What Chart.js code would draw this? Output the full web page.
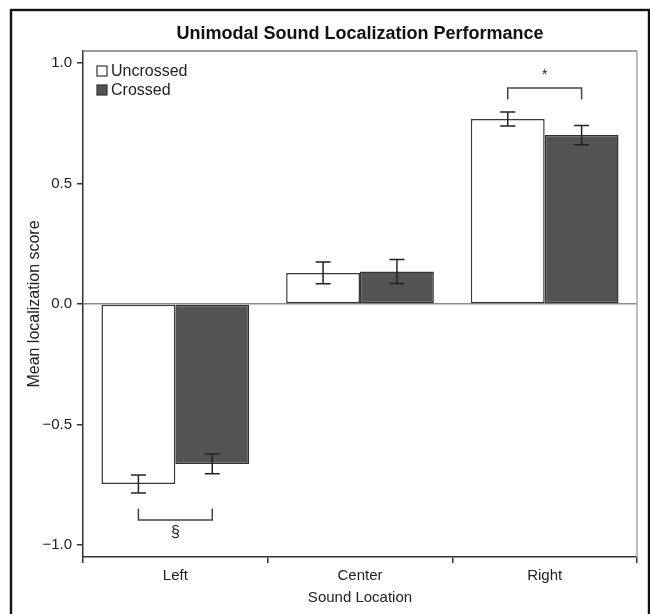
<!DOCTYPE html>
<html>
<head>
<meta charset="utf-8">
<title>Unimodal Sound Localization Performance</title>
<script src="https://cdn.jsdelivr.net/npm/chart.js@4.4.1/dist/chart.umd.min.js"></script>
<style>
  html, body { margin: 0; padding: 0; background: #fff; overflow: hidden; }
  canvas { display: block; }
</style>
</head>
<body>
<canvas id="chart" width="650" height="614"></canvas>
<script>
// data
const categories = ["Left", "Center", "Right"];
const seriesNames = ["Uncrossed", "Crossed"];
const uncrossed = [-0.747, 0.129, 0.768];
const uncrossedErr = [0.037, 0.045, 0.029];
const crossed = [-0.664, 0.135, 0.701];
const crossedErr = [0.041, 0.050, 0.040];
const yTicks = [-1.0, -0.5, 0.0, 0.5, 1.0];

// significance marks: category, symbol, bracket level (score units)
const sigCategories = [0, 2];
const sigSymbols = ["\u00a7", "*"];
const sigLevels = [-0.896, 0.896];

const FONT = "'Liberation Sans', Arial, Helvetica, sans-serif";
const INK = "#222";

const errors = [uncrossedErr, crossedErr];

const framePlugin = {
    id: "frame",
    beforeDraw(chart) {
        const ctx = chart.ctx;
        ctx.save();
        ctx.fillStyle = "#fff";
        ctx.fillRect(0, 0, chart.width, chart.height);
        ctx.strokeStyle = "#111";
        ctx.lineWidth = 2.4;
        ctx.strokeRect(11, 10, 638, 700);
        ctx.restore();
    },
    afterDraw(chart) {
        const { left, right, top, bottom } = chart.chartArea;
        const ctx = chart.ctx;
        ctx.save();
        ctx.strokeStyle = "#9a9a9a";
        ctx.lineWidth = 2;
        ctx.beginPath();
        ctx.moveTo(left, top);
        ctx.lineTo(right, top);
        ctx.stroke();
        ctx.lineWidth = 1.5;
        ctx.strokeStyle = "#aaa";
        ctx.beginPath();
        ctx.moveTo(right, top);
        ctx.lineTo(right, bottom);
        ctx.stroke();
        ctx.restore();
    }
};

const errorBarPlugin = {
    id: "errorBars",
    afterDatasetsDraw(chart) {
        const ctx = chart.ctx;
        const y = chart.scales.y;
        ctx.save();
        ctx.strokeStyle = INK;
        ctx.lineWidth = 1.5;
        chart.data.datasets.forEach((ds, d) => {
            chart.getDatasetMeta(d).data.forEach((bar, i) => {
                const v = ds.data[i];
                const e = errors[d][i];
                const yHi = y.getPixelForValue(v + e);
                const yLo = y.getPixelForValue(v - e);
                const half = 7.5;
                ctx.beginPath();
                ctx.moveTo(bar.x, yHi);
                ctx.lineTo(bar.x, yLo);
                ctx.moveTo(bar.x - half, yHi);
                ctx.lineTo(bar.x + half, yHi);
                ctx.moveTo(bar.x - half, yLo);
                ctx.lineTo(bar.x + half, yLo);
                ctx.stroke();
            });
        });
        ctx.restore();
    }
};

const sigPlugin = {
    id: "significance",
    afterDatasetsDraw(chart) {
        const ctx = chart.ctx;
        const y = chart.scales.y;
        const a = chart.getDatasetMeta(0).data;
        const b = chart.getDatasetMeta(1).data;
        ctx.save();
        ctx.strokeStyle = "#444";
        ctx.lineWidth = 1.5;
        ctx.fillStyle = INK;
        ctx.textAlign = "center";
        ctx.textBaseline = "middle";
        sigCategories.forEach((c, k) => {
            const level = sigLevels[k];
            // below zero the bracket opens upward and the mark sits underneath
            const dir = level < 0 ? 1 : -1;
            const yLine = y.getPixelForValue(level);
            const yTip = y.getPixelForValue(level + dir * 0.047);
            const x1 = a[c].x, x2 = b[c].x;
            ctx.beginPath();
            ctx.moveTo(x1, yTip);
            ctx.lineTo(x1, yLine);
            ctx.lineTo(x2, yLine);
            ctx.lineTo(x2, yTip);
            ctx.stroke();
            ctx.font = (dir > 0 ? "16px " : "14px ") + FONT;
            ctx.fillText(sigSymbols[k], (x1 + x2) / 2, yLine + dir * 13);
        });
        ctx.restore();
    }
};

const legendPlugin = {
    id: "boxLegend",
    afterDraw(chart) {
        const ctx = chart.ctx;
        const { left, top } = chart.chartArea;
        ctx.save();
        ctx.font = "16px " + FONT;
        ctx.textBaseline = "middle";
        ctx.textAlign = "left";
        chart.data.datasets.forEach((ds, d) => {
            const cy = top + 20 + d * 19;
            const bx = left + 14;
            ctx.fillStyle = ds.backgroundColor;
            ctx.fillRect(bx, cy - 5, 10, 10);
            ctx.strokeStyle = "#333";
            ctx.lineWidth = 1.2;
            ctx.strokeRect(bx, cy - 5, 10, 10);
            ctx.fillStyle = INK;
            ctx.fillText(ds.label, bx + 14, cy + 1);
        });
        ctx.restore();
    }
};

new Chart(document.getElementById("chart"), {
    type: "bar",
    data: {
        labels: categories,
        datasets: [
            {
                label: seriesNames[0],
                data: uncrossed,
                backgroundColor: "#ffffff",
                borderColor: "#3a3a3a",
                borderWidth: 1.5,
                borderSkipped: false
            },
            {
                label: seriesNames[1],
                data: crossed,
                backgroundColor: "#545454",
                borderColor: "#333333",
                borderWidth: 1.5,
                borderSkipped: false
            }
        ]
    },
    options: {
        responsive: false,
        animation: false,
        devicePixelRatio: 1,
        layout: { padding: { left: 0, right: 13, top: 0, bottom: 0 } },
        datasets: {
            bar: { categoryPercentage: 0.8, barPercentage: 1.0 }
        },
        plugins: {
            legend: { display: false },
            tooltip: { enabled: false },
            title: {
                display: true,
                text: "Unimodal Sound Localization Performance",
                fullSize: false,
                color: "#111",
                font: { family: FONT, size: 18, weight: "bold" },
                padding: { top: 23, bottom: 6.4 }
            }
        },
        scales: {
            x: {
                grid: {
                    drawOnChartArea: false,
                    tickColor: "#333",
                    tickLength: 6,
                    lineWidth: 1.5
                },
                border: { color: "#333", width: 1.5 },
                ticks: {
                    color: INK,
                    padding: 4,
                    font: { family: FONT, size: 15 }
                },
                title: {
                    display: true,
                    text: "Sound Location",
                    color: INK,
                    font: { family: FONT, size: 15 },
                    padding: { top: 0, bottom: 7 }
                },
                afterFit(scale) { scale.height = 57; }
            },
            y: {
                min: -1.05,
                max: 1.05,
                afterBuildTicks(scale) {
                    scale.ticks = yTicks.map(v => ({ value: v }));
                },
                grid: {
                    color: c => (c.tick && c.tick.value === 0 ? "#8a8a8a" : "rgba(0,0,0,0)"),
                    tickColor: "#333",
                    tickLength: 6,
                    lineWidth: 1.5
                },
                border: { color: "#333", width: 1.5 },
                ticks: {
                    color: INK,
                    padding: 5,
                    font: { family: FONT, size: 15 },
                    callback: v => (v < 0 ? "\u2212" : "") + Math.abs(v).toFixed(1)
                },
                title: {
                    display: true,
                    text: "Mean localization score",
                    color: INK,
                    font: { family: FONT, size: 16 },
                    padding: { top: 25, bottom: 0 }
                },
                afterFit(scale) { scale.width = 83; }
            }
        }
    },
    plugins: [framePlugin, errorBarPlugin, sigPlugin, legendPlugin]
});
</script>
</body>
</html>
